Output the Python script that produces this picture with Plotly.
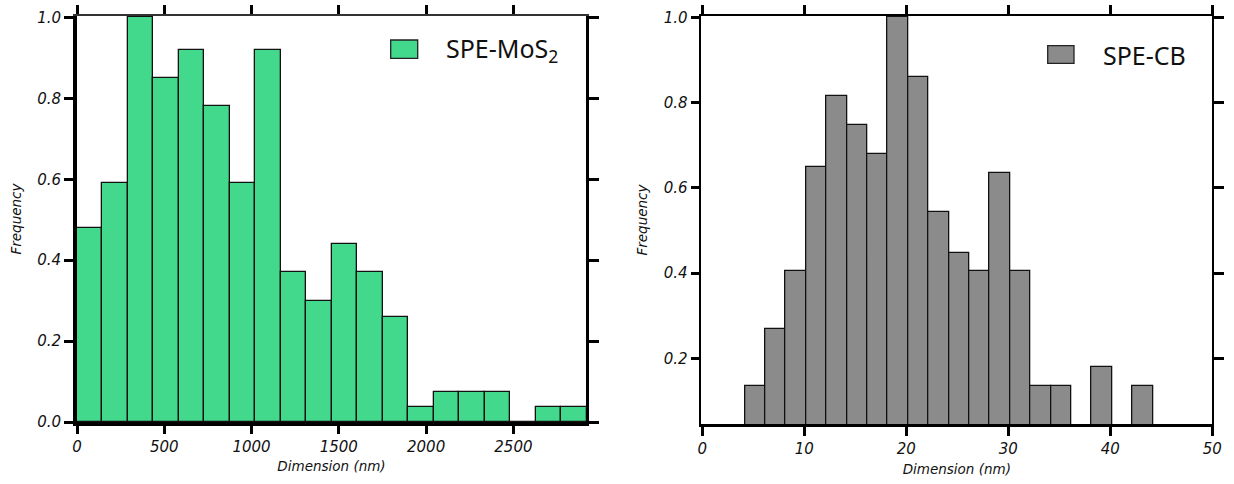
import plotly.graph_objects as go

# ---------------- data ----------------
# Left: SPE-MoS2 size distribution (normalised frequency), 20 bins of ~146 nm from 0 nm
mos2_bin_start = 0.0
mos2_bin_width = 146.0
mos2_freq = [0.48, 0.59, 1.00, 0.85, 0.92, 0.78, 0.59, 0.92, 0.37, 0.30,
             0.44, 0.37, 0.26, 0.037, 0.074, 0.074, 0.074, 0.0, 0.037, 0.037]

# Right: SPE-CB size distribution (normalised frequency), 20 bins of 2 nm from ~4.2 nm
cb_bin_start = 4.18
cb_bin_width = 2.0
cb_freq = [0.135, 0.27, 0.405, 0.648, 0.815, 0.747, 0.679, 1.00, 0.861, 0.543,
           0.448, 0.406, 0.635, 0.406, 0.135, 0.135, 0.0, 0.18, 0.0, 0.135]

left_xticks = [0, 500, 1000, 1500, 2000, 2500]
left_yticks = [0.0, 0.2, 0.4, 0.6, 0.8, 1.0]
right_xticks = [0, 10, 20, 30, 40, 50]
right_yticks = [0.2, 0.4, 0.6, 0.8, 1.0]

x_title = "Dimension (nm)"
y_title = "Frequency"
left_label = "SPE-MoS<sub>2</sub>"
right_label = "SPE-CB"

GREEN = "#42D98C"
GRAY = "#8B8B8B"

# ---------------- figure ----------------
W, H = 1234, 484


def px_x(p):
    return p / W


def px_y(p):
    return 1 - p / H


mos2_x = [mos2_bin_start + (i + 0.5) * mos2_bin_width for i in range(len(mos2_freq))]
cb_x = [cb_bin_start + (i + 0.5) * cb_bin_width for i in range(len(cb_freq))]

fig = go.Figure()
fig.add_trace(go.Bar(x=mos2_x, y=mos2_freq, width=mos2_bin_width, name="SPE-MoS2",
                     marker=dict(color=GREEN, line=dict(color="#111111", width=1.3)),
                     xaxis="x", yaxis="y", showlegend=False))
fig.add_trace(go.Bar(x=cb_x, y=cb_freq, width=cb_bin_width, name="SPE-CB",
                     marker=dict(color=GRAY, line=dict(color="#111111", width=1.3)),
                     xaxis="x2", yaxis="y2", showlegend=False))
# empty helper traces so the mirrored frame axes (top / right) get drawn
fig.add_trace(go.Scatter(x=[None], y=[None], xaxis="x3", yaxis="y3", mode="markers",
                         showlegend=False, hoverinfo="skip"))
fig.add_trace(go.Scatter(x=[None], y=[None], xaxis="x4", yaxis="y4", mode="markers",
                         showlegend=False, hoverinfo="skip"))

tickfont = dict(family="DejaVu Sans", size=15, color="#111111", style="italic")
titlefont = dict(family="DejaVu Sans", size=13.5, color="#111111", style="italic")

L_dom_x = [px_x(77), px_x(586)]
L_dom_y = [px_y(422), px_y(16)]
R_dom_x = [px_x(701.3), px_x(1212.3)]
R_dom_y = [px_y(424), px_y(16)]

L_xrange = [0, 2916]
L_yrange = [0.0, 1.0035]
R_xrange = [-0.1, 50]
R_yrange = [0.046, 1.003]

common = dict(showgrid=False, zeroline=False, showline=True, linecolor="#000000",
              ticks="outside", tickcolor="#000000", automargin=False, fixedrange=True)

fig.update_layout(
    width=W, height=H,
    margin=dict(l=0, r=0, t=0, b=0),
    paper_bgcolor="white", plot_bgcolor="white",
    bargap=0,
    # ----- left panel -----
    xaxis=dict(domain=L_dom_x, anchor="y", range=L_xrange, tickvals=left_xticks,
               linewidth=4, ticklen=8, tickwidth=3, tickfont=tickfont,
               title=dict(text=x_title, font=titlefont, standoff=8), **common),
    yaxis=dict(domain=L_dom_y, anchor="x", range=L_yrange, tickvals=left_yticks,
               tickformat=".1f", linewidth=4, ticklen=9, tickwidth=3, tickfont=tickfont,
               title=dict(text=y_title, font=titlefont, standoff=13), **common),
    xaxis3=dict(overlaying="x", anchor="y3", side="top", range=L_xrange, tickvals=left_xticks,
                showticklabels=False, linewidth=2, ticklen=9, tickwidth=3,
                **{**common, "linecolor": "#333333"}),
    yaxis3=dict(overlaying="y", anchor="x3", side="right", range=L_yrange, tickvals=left_yticks,
                showticklabels=False, linewidth=3, ticklen=10, tickwidth=3, **common),
    # ----- right panel -----
    xaxis2=dict(domain=R_dom_x, anchor="y2", range=R_xrange, tickvals=right_xticks,
                linewidth=3, ticklen=9, tickwidth=3, tickfont=tickfont,
                title=dict(text=x_title, font=titlefont, standoff=8), **common),
    yaxis2=dict(domain=R_dom_y, anchor="x2", range=R_yrange, tickvals=right_yticks,
                tickformat=".1f", linewidth=1.5, ticklen=9, tickwidth=3, tickfont=tickfont,
                title=dict(text=y_title, font=titlefont, standoff=13), **common),
    xaxis4=dict(overlaying="x2", anchor="y4", side="top", range=R_xrange, tickvals=right_xticks,
                showticklabels=False, linewidth=2, ticklen=9, tickwidth=3, **common),
    yaxis4=dict(overlaying="y2", anchor="x4", side="right", range=R_yrange, tickvals=right_yticks,
                showticklabels=False, linewidth=2, ticklen=10, tickwidth=3, **common),
)

# ----- legend-like keys -----
fig.add_shape(type="rect", xref="paper", yref="paper",
              x0=px_x(390.7), x1=px_x(417.7), y0=px_y(58.3), y1=px_y(40),
              fillcolor=GREEN, line=dict(color="#222222", width=1.3))
fig.add_annotation(xref="paper", yref="paper", x=px_x(444), y=px_y(49),
                   xanchor="left", yanchor="middle", showarrow=False, text=left_label,
                   font=dict(family="Noto Sans", size=25, color="#111111"))
fig.add_shape(type="rect", xref="paper", yref="paper",
              x0=px_x(1047.7), x1=px_x(1074), y0=px_y(63.3), y1=px_y(45.7),
              fillcolor=GRAY, line=dict(color="#222222", width=1.3))
fig.add_annotation(xref="paper", yref="paper", x=px_x(1100.5), y=px_y(55),
                   xanchor="left", yanchor="middle", showarrow=False, text=right_label,
                   font=dict(family="Noto Sans", size=25, color="#111111"))

fig.write_html("out.html")
